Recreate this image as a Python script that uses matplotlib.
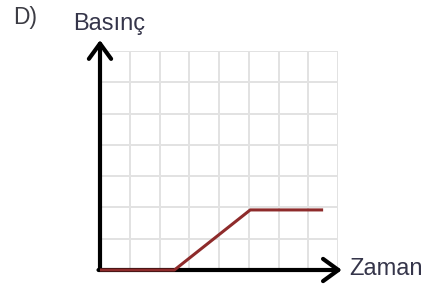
import matplotlib
matplotlib.use("Agg")
import matplotlib.pyplot as plt

# pressure vs time (grid units)
zaman = [0, 2.5, 5.05, 7.5]
basinc = [0, 0, 1.92, 1.92]

n_cols = 8
n_rows = 7

fig = plt.figure(figsize=(4.28, 2.91), dpi=100)
W, H = 428, 291
ax = fig.add_axes([100 / W, 21 / H, 238 / W, 219 / H])
ax.set_xlim(0, n_cols)
ax.set_ylim(0, n_rows)

# grid
for i in range(1, n_cols + 1):
    ax.axvline(i, color="#e2e2e2", lw=1.4, zorder=1)
for j in range(1, n_rows + 1):
    ax.axhline(j, color="#e2e2e2", lw=1.4, zorder=1)

for s in ax.spines.values():
    s.set_visible(False)
ax.set_xticks([])
ax.set_yticks([])

# axes with arrows
arrow = dict(arrowstyle="->,head_length=0.55,head_width=0.4", lw=3,
             color="black", mutation_scale=20, shrinkA=0, shrinkB=0)
ax.annotate("", xy=(0, 7.35), xytext=(0, 0), arrowprops=arrow,
            annotation_clip=False, zorder=3)
ax.annotate("", xy=(8.13, 0), xytext=(-0.05, 0), arrowprops=arrow,
            annotation_clip=False, zorder=3)

ax.plot(zaman, basinc, color="#8e2b2b", lw=2.2, clip_on=False, zorder=4,
        solid_capstyle="butt")

font = ["Liberation Sans", "DejaVu Sans"]
fig.text(13 / W, 1 - 24 / H, "D)", fontsize=16.5, color="#3c3c44",
         family=font)
fig.text(73 / W, 1 - 30 / H, "Basınç", fontsize=17, color="#35354a",
         family=font)
fig.text(349 / W, 1 - 269 / H, "Zaman", fontsize=17, color="#35354a",
         family=font, va="center")

fig.savefig("out.png", dpi=100)
